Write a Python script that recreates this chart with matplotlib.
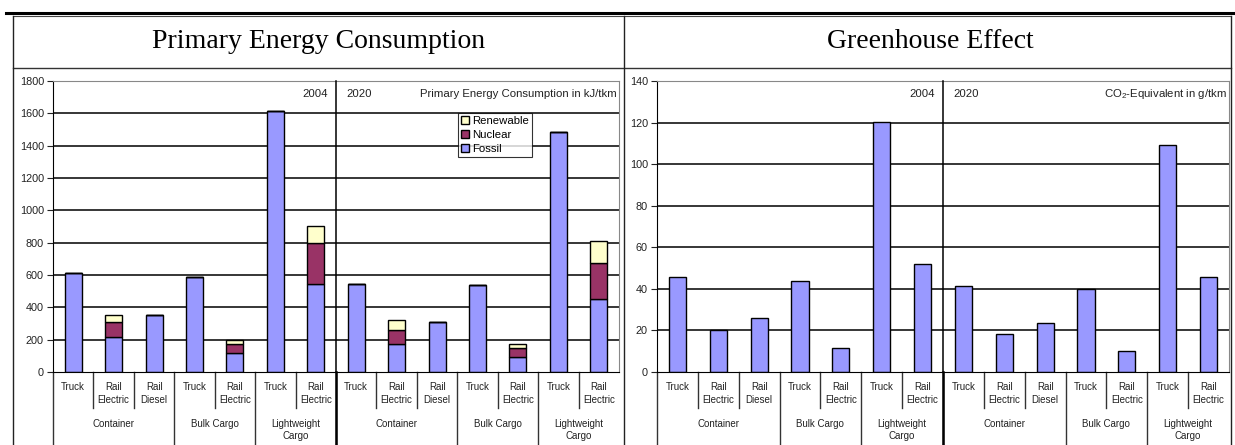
import numpy as np
import matplotlib
matplotlib.use('Agg')
import matplotlib.pyplot as plt
from matplotlib.patches import Patch
from matplotlib.transforms import blended_transform_factory

plt.rcParams['font.family'] = ['Liberation Sans', 'DejaVu Sans']
plt.rcParams['mathtext.default'] = 'regular'

# transport modes, cargo groups and years along the category axis
modes = ['Truck', 'Rail\nElectric', 'Rail\nDiesel', 'Truck', 'Rail\nElectric',
         'Truck', 'Rail\nElectric'] * 2
cargo = ['Container', 'Bulk Cargo', 'Lightweight\nCargo'] * 2
cargo_size = [3, 2, 2, 3, 2, 2]
years = ['2004', '2020']

# primary energy consumption in kJ/tkm, split by source
fossil = [610, 216, 352, 586, 118, 1613, 545, 543, 173, 311, 536, 93, 1485, 450]
nuclear = [0, 94, 0, 4, 56, 0, 252, 0, 89, 0, 0, 57, 0, 222]
renewable = [0, 44, 0, 0, 22, 0, 106, 0, 60, 0, 0, 25, 0, 136]

# greenhouse gas emissions in g CO2-equivalent per tkm
co2 = [45.6, 20, 26.2, 43.7, 11.4, 120.5, 51.8, 41.3, 18.2, 23.8, 40, 10.1, 109.1, 45.6]

C_FOSSIL = '#9999ff'
C_NUCLEAR = '#993366'
C_RENEW = '#ffffcc'
TXT = '#222222'

W, H = 1235, 445
fig = plt.figure(figsize=(W / 100, H / 100), dpi=100)


def px_rect(x0, y0, x1, y1):
    return [x0 / W, 1 - y1 / H, (x1 - x0) / W, (y1 - y0) / H]


# table frame around the two charts
frame = fig.add_axes([0, 0, 1, 1])
frame.set_xlim(0, W)
frame.set_ylim(H, 0)
frame.axis('off')
frame.plot([6, W], [13, 13], color='black', lw=2.2)
frame.plot([13, 1231], [16, 16], color='#444444', lw=0.8)
frame.plot([13, 1231], [68, 68], color='#333333', lw=1.0)
for xb in [13, 624, 1231]:
    frame.plot([xb, xb], [16, H], color='#222222', lw=1.0)
frame.text(319, 42, 'Primary Energy Consumption', family='Liberation Serif',
           fontsize=20, ha='center', va='center')
frame.text(930, 42, 'Greenhouse Effect', family='Liberation Serif',
           fontsize=20, ha='center', va='center')

AX_H = 372 - 81
ax1 = fig.add_axes(px_rect(53, 81, 619, 372))
ax2 = fig.add_axes(px_rect(657, 81, 1229, 372))


def setup_panel(ax, ymax, ystep, unit_text):
    x = np.arange(len(modes))
    ax.set_xlim(-0.5, len(modes) - 0.5)
    ax.set_ylim(0, ymax)
    ticks = np.arange(0, ymax + 1, ystep)
    ax.set_yticks(ticks)
    for v in ticks[1:-1]:
        ax.axhline(v, color='black', lw=1.1, zorder=0.5)
    ax.set_xticks([])
    ax.tick_params(axis='y', direction='out', length=4.5, width=0.8,
                   labelsize=7.8, pad=2, colors=TXT)
    ax.spines['left'].set_color('black')
    ax.spines['bottom'].set_color('black')
    for s in ['top', 'right']:
        ax.spines[s].set_color('#888888')
        ax.spines[s].set_linewidth(0.8)

    tr = blended_transform_factory(ax.transData, ax.transAxes)
    bottom = -(H - 372) / AX_H
    sub_bottom = -(408 - 372) / AX_H

    # year divider through the plot and down the label table
    ax.plot([6.5, 6.5], [1, 0], transform=tr, color='black', lw=1.1,
            clip_on=False, zorder=3)
    ax.plot([6.5, 6.5], [0, bottom], transform=tr, color='black', lw=1.8,
            clip_on=False, zorder=3)

    # group separators and mode separators below the axis
    edges = np.concatenate([[0], np.cumsum(cargo_size)]) - 0.5
    for e in edges[:-1]:
        ax.plot([e, e], [0, bottom], transform=tr, color='#333333', lw=1.0,
                clip_on=False)
    for i in range(len(modes) - 1):
        b = i + 0.5
        if not np.any(np.isclose(edges, b)):
            ax.plot([b, b], [0, sub_bottom], transform=tr, color='#333333',
                    lw=1.0, clip_on=False)

    for i, m in enumerate(modes):
        ax.text(x[i], -0.036, m, transform=tr, ha='center', va='top',
                fontsize=7, color=TXT, linespacing=1.3)
    for g, name in enumerate(cargo):
        mid = (edges[g] + edges[g + 1]) / 2
        ax.text(mid, -0.163, name, transform=tr, ha='center', va='top',
                fontsize=7, color=TXT, linespacing=1.25)

    ax.text(6.3, 0.957, years[0], transform=tr, ha='right', va='center',
            fontsize=8.2, color=TXT)
    ax.text(6.75, 0.957, years[1], transform=tr, ha='left', va='center',
            fontsize=8.2, color=TXT)
    ax.text(0.996, 0.957, unit_text, transform=ax.transAxes, ha='right',
            va='center', fontsize=8.2, color=TXT)
    return x


bw = 0.42
x = setup_panel(ax1, 1800, 200, 'Primary Energy Consumption in kJ/tkm')
f = np.array(fossil)
n = np.array(nuclear)
r = np.array(renewable)
ax1.bar(x, f, bw, color=C_FOSSIL, edgecolor='black', lw=1.0, zorder=2)
ax1.bar(x, n, bw, bottom=f, color=C_NUCLEAR, edgecolor='black', lw=1.0,
        zorder=2)
ax1.bar(x, r, bw, bottom=f + n, color=C_RENEW, edgecolor='black', lw=1.0,
        zorder=2)

handles = [Patch(facecolor=C_RENEW, edgecolor='black', label='Renewable'),
           Patch(facecolor=C_NUCLEAR, edgecolor='black', label='Nuclear'),
           Patch(facecolor=C_FOSSIL, edgecolor='black', label='Fossil')]
leg = ax1.legend(handles=handles, loc='upper left',
                 bbox_to_anchor=((458 - 53) / 566, (372 - 113) / AX_H),
                 fontsize=8.2, frameon=True, fancybox=False, borderpad=0.3,
                 handlelength=0.7, handleheight=0.7, handletextpad=0.2,
                 labelspacing=0.32, borderaxespad=0)
leg.get_frame().set_edgecolor('black')
leg.get_frame().set_linewidth(0.8)
leg.set_zorder(5)

x = setup_panel(ax2, 140, 20, 'CO$_2$-Equivalent in g/tkm')
ax2.bar(x, co2, bw, color=C_FOSSIL, edgecolor='black', lw=1.0, zorder=2)

fig.savefig('out.png', dpi=100)
